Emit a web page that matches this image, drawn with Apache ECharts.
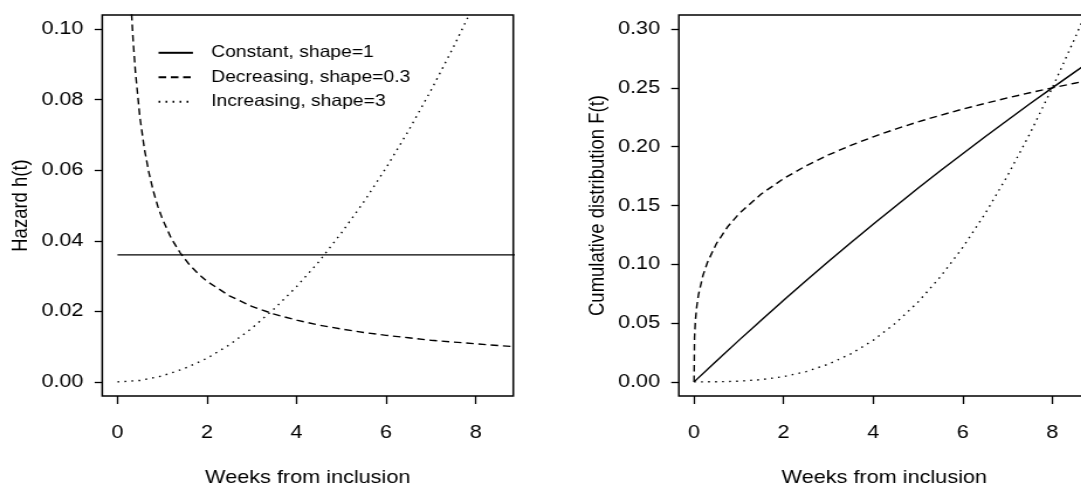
<!DOCTYPE html>
<html>
<head>
<meta charset="utf-8">
<script src="https://cdn.jsdelivr.net/npm/echarts@6/dist/echarts.min.js"></script>
<style>
    html, body { margin: 0; padding: 0; background: #fff; overflow: hidden; }
    /* the reference is stretched sideways, so draw narrower and widen it */
    #chart { width: 940px; height: 492px; transform: scaleX(1.17); transform-origin: 0 0; }
</style>
</head>
<body>
<div id="chart"></div>
<script>
    // x values (weeks)
    const weeks = [0, 0.5, 1, 1.5, 2, 2.5, 3, 3.5, 4, 4.5, 5, 5.5, 6, 6.5, 7, 7.5, 8, 8.5, 9];
    const weeksFlat = [0, 9];
    const weeksHazardDec = [0.25, 0.3, 0.35, 0.4, 0.5, 0.6, 0.7, 0.8, 0.9, 1, 1.2, 1.4, 1.6, 1.8, 2, 2.5, 3, 3.5, 4, 4.5, 5, 5.5, 6, 6.5, 7, 7.5, 8, 8.5, 9];
    const weeksCdfDec = [0, 0.01, 0.03, 0.06, 0.1, 0.2, 0.3, 0.5, 0.75, 1, 1.5, 2, 2.5, 3, 3.5, 4, 4.5, 5, 5.5, 6, 6.5, 7, 7.5, 8, 8.5, 9];

    // hazard h(t)
    const hazardConstant = [0.036, 0.036];
    const hazardDecreasing = [0.1221, 0.1075, 0.0965, 0.0879, 0.0751, 0.0661, 0.0594, 0.0541, 0.0498, 0.0463,
        0.0407, 0.0366, 0.0333, 0.0307, 0.0285, 0.0244, 0.0214, 0.0192, 0.0175, 0.0161, 0.0150, 0.0140,
        0.0132, 0.0125, 0.0118, 0.0113, 0.0108, 0.0103, 0.0099];
    const hazardIncreasing = [0, 0.0004, 0.0017, 0.0038, 0.0067, 0.0105, 0.0152, 0.0207, 0.0270, 0.0341,
        0.0422, 0.0510, 0.0607, 0.0712, 0.0826, 0.0948, 0.1079, 0.1218, 0.1366];

    // cumulative distribution F(t)
    const cdfConstant = [0, 0.0178, 0.0353, 0.0525, 0.0694, 0.0860, 0.1023, 0.1183, 0.1340, 0.1494,
        0.1646, 0.1795, 0.1940, 0.2084, 0.2225, 0.2365, 0.25, 0.2634, 0.2765];
    const cdfDecreasing = [0, 0.0380, 0.0524, 0.0641, 0.0744, 0.0907, 0.1018, 0.1177, 0.1319, 0.1429,
        0.1598, 0.1729, 0.1837, 0.1930, 0.2011, 0.2084, 0.2150, 0.2211, 0.2267, 0.2320, 0.2368,
        0.2415, 0.2459, 0.25, 0.2540, 0.2578];
    const cdfIncreasing = [0, 0.0001, 0.0006, 0.0019, 0.0045, 0.0087, 0.0151, 0.0238, 0.0353, 0.0499,
        0.0678, 0.0893, 0.1143, 0.1430, 0.1753, 0.2111, 0.25, 0.2918, 0.3361];

    // tick labels
    const weekTicks = [0, 2, 4, 6, 8];
    const hazardTicks = [0, 0.02, 0.04, 0.06, 0.08, 0.10];
    const cdfTicks = [0, 0.05, 0.10, 0.15, 0.20, 0.25, 0.30];

    const names = ['Constant, shape=1', 'Decreasing, shape=0.3', 'Increasing, shape=3'];

    const font = '"Liberation Sans", Arial, Helvetica, sans-serif';

    function pairs(xs, ys) {
        return xs.map((x, i) => [x, ys[i]]);
    }

    function xAxisFor(gridIndex) {
        return {
            type: 'value', gridIndex: gridIndex, min: -0.34, max: 8.84,
            name: 'Weeks from inclusion', nameLocation: 'middle', nameGap: 72,
            nameTextStyle: {color: '#000', fontSize: 18.5, fontFamily: font},
            axisLine: {show: false, onZero: false},
            axisTick: {show: true, inside: false, length: 8, customValues: weekTicks,
                lineStyle: {color: '#000', width: 1.3}},
            axisLabel: {customValues: weekTicks, margin: 27, color: '#000', fontSize: 18.5, fontFamily: font},
            splitLine: {show: false}
        };
    }

    function yAxisFor(gridIndex, min, max, ticks, title) {
        return {
            type: 'value', gridIndex: gridIndex, min: min, max: max,
            name: title, nameLocation: 'middle', nameGap: 60,
            nameTextStyle: {color: '#000', fontSize: 18.5, fontFamily: font},
            axisLine: {show: false, onZero: false},
            axisTick: {show: true, inside: false, length: 6.5, customValues: ticks,
                lineStyle: {color: '#000', width: 1.3}},
            axisLabel: {customValues: ticks, margin: 16, color: '#000', fontSize: 18.5, fontFamily: font,
                formatter: v => v.toFixed(2)},
            splitLine: {show: false}
        };
    }

    // 实线 / 虚线 / 点线
    const styles = [
        {type: 'solid'},
        {type: [6.5, 4]},
        {type: [1.5, 4.5]}
    ];

    function line(name, idx, gridIndex, data) {
        return {
            name: name, type: 'line', xAxisIndex: gridIndex, yAxisIndex: gridIndex,
            symbol: 'none', smooth: false, clip: true, animation: false,
            lineStyle: Object.assign({color: '#000', width: 1.4}, styles[idx]),
            itemStyle: {color: '#000'},
            data: data
        };
    }

    let myChart = echarts.init(document.getElementById('chart'));
    myChart.setOption({
        backgroundColor: '#fff',
        animation: false,
        grid: [
            {left: 87.4, top: 15, width: 351.3, height: 382, show: true, borderColor: '#000', borderWidth: 1.5},
            {left: 580.2, top: 15, width: 351.3, height: 382, show: true, borderColor: '#000', borderWidth: 1.5}
        ],
        legend: {
            orient: 'vertical', left: 134.5, top: 44.3, padding: 0,
            itemWidth: 29.4, itemHeight: 16, itemGap: 7.5,
            data: names,
            itemStyle: {opacity: 0},
            textStyle: {color: '#000', fontSize: 16.5, fontFamily: font, lineHeight: 16, padding: [0, 0, 0, 10.6]}
        },
        xAxis: [xAxisFor(0), xAxisFor(1)],
        yAxis: [
            yAxisFor(0, -0.004, 0.104, hazardTicks, 'Hazard h(t)'),
            yAxisFor(1, -0.012, 0.312, cdfTicks, 'Cumulative distribution F(t)')
        ],
        series: [
            line(names[0], 0, 0, pairs(weeksFlat, hazardConstant)),
            line(names[1], 1, 0, pairs(weeksHazardDec, hazardDecreasing)),
            line(names[2], 2, 0, pairs(weeks, hazardIncreasing)),
            line(names[0], 0, 1, pairs(weeks, cdfConstant)),
            line(names[1], 1, 1, pairs(weeksCdfDec, cdfDecreasing)),
            line(names[2], 2, 1, pairs(weeks, cdfIncreasing))
        ]
    });
</script>
</body>
</html>
